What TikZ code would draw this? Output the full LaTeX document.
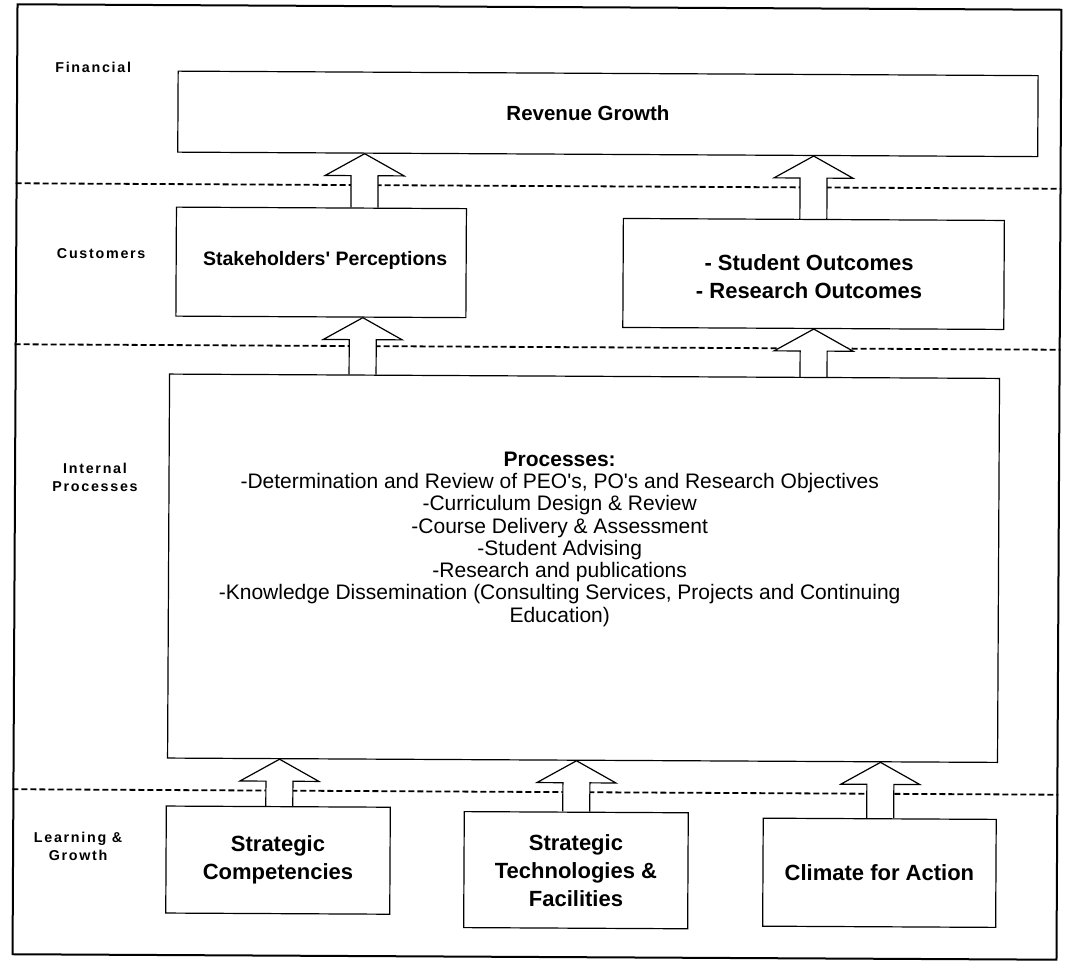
\documentclass[tikz,border=0pt]{standalone}
\usepackage{fontspec}
\setmainfont{Liberation Sans}[Ligatures=TeXOff]
\newfontfamily\lblfont{Liberation Sans}[LetterSpace=12,Ligatures=TeXOff]
\newfontfamily\procfont{Liberation Sans}[Ligatures=TeXOff]
\usetikzlibrary{calc}
\pgfdeclarelayer{bg}
\pgfsetlayers{bg,main}
\newcommand\blkarrow[3]{%
  \coordinate (ab) at (#2 -| #1);
  \coordinate (at) at (#3 -| #1);
  \draw[barrow] ($(ab)+(-13.5,0)$) -- ($(at)+(-13.5,22)$) -- ($(at)+(-39.5,22)$) -- (at)
     -- ($(at)+(39.5,22)$) -- ($(at)+(13.5,22)$) -- ($(ab)+(13.5,0)$);
}
\begin{document}
\begin{tikzpicture}[x=1pt,y=-1pt,
  box/.style={draw,line width=1.2pt,fill=white,inner sep=0pt,transform shape},
  lbl/.style={font=\lblfont\bfseries\fontsize{14.3}{18}\selectfont,align=center},
  btxt/.style={font=\bfseries\fontsize{22}{28}\selectfont,align=center},
  ptxt/.style={font=\procfont\fontsize{21}{22.3}\selectfont,align=center},
  sep/.style={dash pattern=on 6pt off 3pt,line width=1.8pt},
  barrow/.style={draw,line width=1.2pt,fill=white,line join=miter}]
\useasboundingbox (0,0) rectangle (1074,965);
\begin{pgfonlayer}{bg}
\fill[white] (0,0) rectangle (1074,965);
\end{pgfonlayer}
\begin{scope}[rotate around={-0.3:(537,482)}]
% frame
\node[draw,line width=2pt,minimum width=1044pt,minimum height=950pt,inner sep=0pt,transform shape] (frame) at (537,482) {};

% boxes
\node[box,minimum width=860pt,minimum height=81pt] (rev) at (606,113.5) {};
\node[btxt,font=\bfseries\fontsize{20.5}{28}\selectfont] (revt) at (586,113) {Revenue Growth};
\node[box,minimum width=290pt,minimum height=109pt] (stake) at (320,263.5) {};
\node[btxt,font=\bfseries\fontsize{19.5}{28}\selectfont] (staket) at (324,262) {Stakeholders' Perceptions};
\node[box,minimum width=381pt,minimum height=109pt] (outc) at (812.5,272.5) {};
\node[btxt] (outct) at (808,275.5) {- Student Outcomes\\- Research Outcomes};
\node[box,minimum width=830pt,minimum height=384pt] (proc) at (584,568) {};
\node[ptxt] (proct) at (560,539) {\textbf{Processes:}\\
-Determination and Review of PEO's, PO's and Research Objectives\\
-Curriculum Design \& Review\\
-Course Delivery \& Assessment\\
-Student Advising\\
-Research and publications\\
-Knowledge Dissemination (Consulting Services, Projects and Continuing\\
Education)};
\node[box,minimum width=224pt,minimum height=107pt] (comp) at (280,861.5) {};
\node[btxt] (compt) at (280,861.5) {Strategic\\Competencies};
\node[box,minimum width=224pt,minimum height=116pt] (tech) at (578,870) {};
\node[btxt] (techt) at (578,870) {Strategic\\Technologies \&\\Facilities};
\node[box,minimum width=233pt,minimum height=108pt] (clim) at (881.5,871) {};
\node[btxt] (climt) at (881.5,871) {Climate for Action};

% row labels
\node[lbl] (lfin) at (91,70) {Financial};
\node[lbl] (lcus) at (100,256) {Customers};
\node[lbl] (lint) at (95,480) {Internal\\Processes};
\node[lbl] (llg) at (80,849) {Learning \&\\Growth};

% arrow x positions
\coordinate (x1) at (363,0);
\coordinate (x2) at (812,0);
\coordinate (x3) at (362,0);
\coordinate (x4) at (813,0);
\coordinate (x5) at (281,0);
\coordinate (x6) at (578,0);
\coordinate (x7) at (882,0);

\begin{pgfonlayer}{bg}
\coordinate (d1l) at (frame.west |- 0,186);
\coordinate (d1r) at (frame.east |- 0,186);
\coordinate (d2l) at (frame.west |- 0,347);
\coordinate (d2r) at (frame.east |- 0,347);
\coordinate (d3l) at (frame.west |- 0,792);
\coordinate (d3r) at (frame.east |- 0,792);
\draw[sep] (d1l) -- (d1r);
\draw[sep] (d2l) -- (d2r);
\draw[sep] (d3l) -- (d3r);
\blkarrow{x1}{stake.north}{rev.south}
\blkarrow{x2}{outc.north}{rev.south}
\blkarrow{x3}{proc.north}{stake.south}
\blkarrow{x4}{proc.north}{outc.south}
\blkarrow{x5}{comp.north}{proc.south}
\blkarrow{x6}{tech.north}{proc.south}
\blkarrow{x7}{clim.north}{proc.south}
\end{pgfonlayer}
\end{scope}
\end{tikzpicture}
\end{document}
